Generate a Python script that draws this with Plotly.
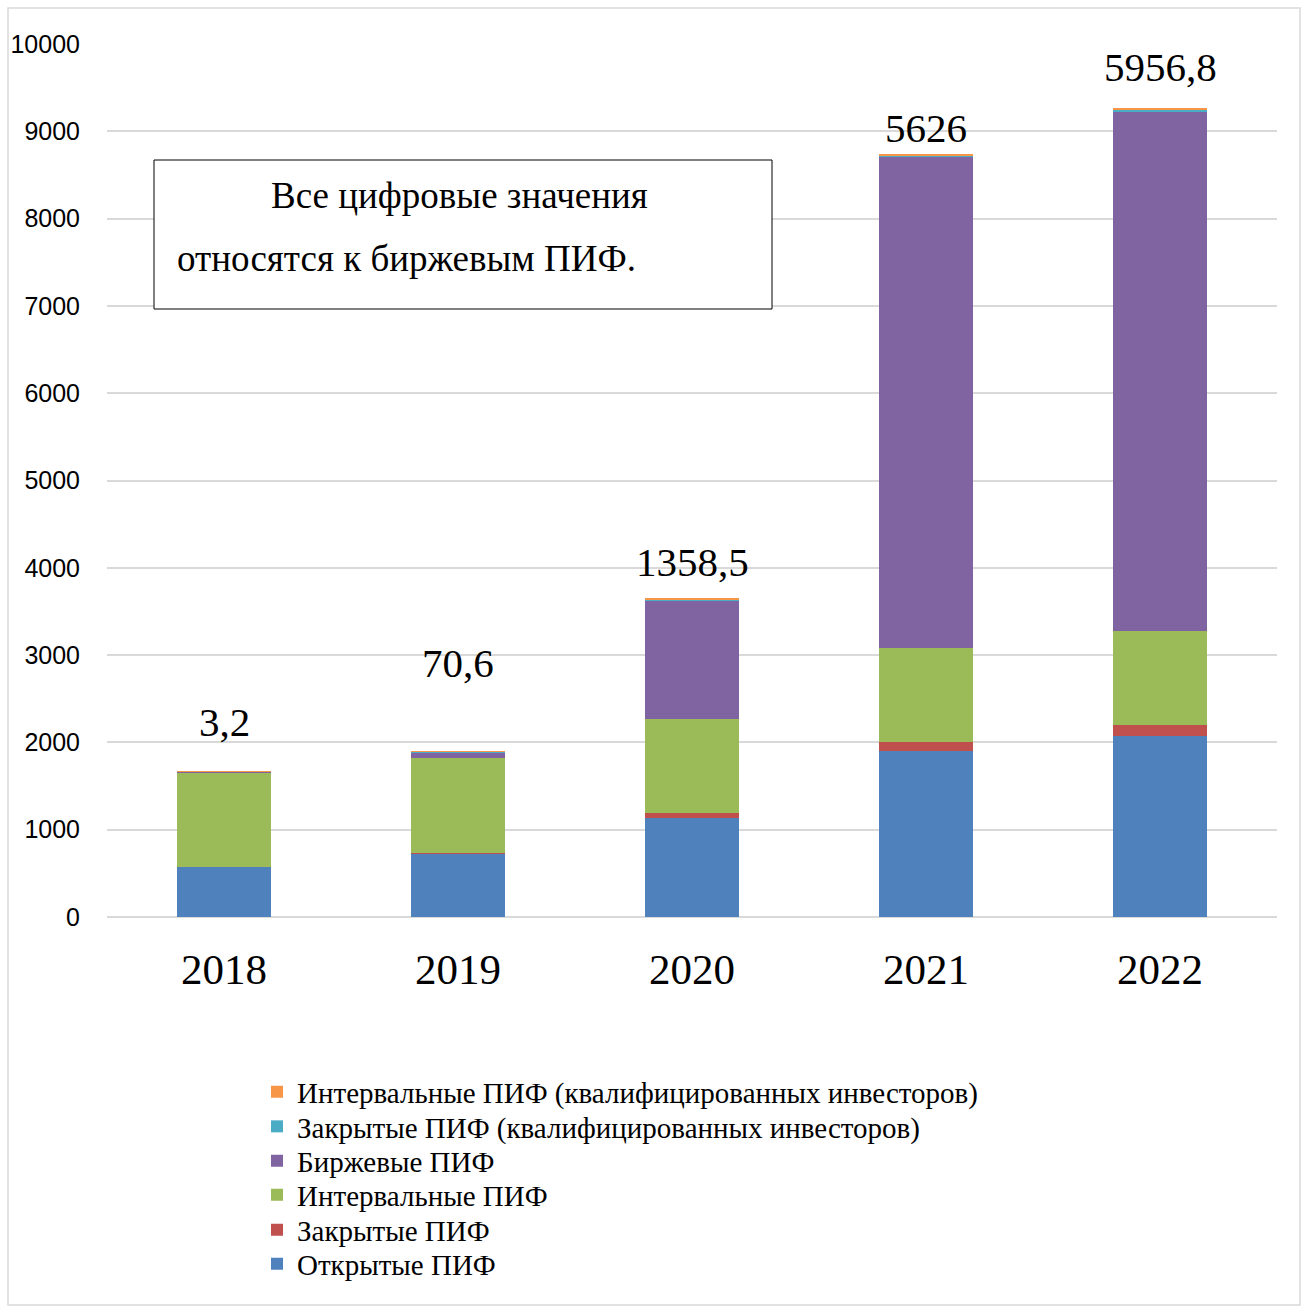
import plotly.graph_objects as go

years = ["2018", "2019", "2020", "2021", "2022"]
open_pif = [573, 730, 1137, 1904, 2072]
closed_pif = [5, 8, 57, 100, 126]
interval_pif = [1082, 1078, 1073, 1080, 1077]
etf_pif = [3.2, 70.6, 1358.5, 5626, 5956.8]
closed_qual = [2, 4, 14, 14, 18]
interval_qual = [1, 2, 5, 8, 10]
etf_labels = ["3,2", "70,6", "1358,5", "5626", "5956,8"]
label_gap_px = [50, 89, 37, 27, 42]

series = [
    ("Открытые ПИФ", open_pif, "#4F81BD"),
    ("Закрытые ПИФ", closed_pif, "#C0504D"),
    ("Интервальные ПИФ", interval_pif, "#9BBB59"),
    ("Биржевые ПИФ", etf_pif, "#8064A2"),
    ("Закрытые ПИФ (квалифицированных инвесторов)", closed_qual, "#4BACC6"),
    ("Интервальные ПИФ (квалифицированных инвесторов)", interval_qual, "#F79646"),
]

L, R, T, B = 107, 32, 44, 393
W, H = 1309, 1310
pw, ph = W - L - R, H - T - B

def px(x):
    return (x - L) / pw

def py(y):
    return (H - B - y) / ph

legend_item_y = [1264, 1230, 1195, 1161, 1126.5, 1092]

fig = go.Figure()
legend_layouts = {}
for i, (name, vals, col) in enumerate(series):
    lname = "legend" if i == 0 else f"legend{i + 1}"
    fig.add_trace(go.Bar(x=years, y=vals, name=name, marker=dict(color=col, line=dict(width=0)),
                         legend=lname, showlegend=True))
    legend_layouts[lname] = dict(x=px(257), y=py(legend_item_y[i]), xanchor="left", yanchor="middle",
                                 font=dict(family="Liberation Serif", size=29, color="black"),
                                 bgcolor="rgba(0,0,0,0)", itemwidth=30)

totals = [sum(s[1][i] for s in series) for i in range(len(years))]
for i, yr in enumerate(years):
    # category index position of each year on the category axis
    fig.add_annotation(x=i, y=totals[i], xref="x", yref="y", text=etf_labels[i], showarrow=False,
                       yanchor="middle", yshift=label_gap_px[i],
                       font=dict(family="Liberation Serif", size=41, color="black"))

# outer border
fig.add_shape(type="rect", xref="paper", yref="paper", x0=px(8), x1=px(1300), y0=py(1305), y1=py(8),
              line=dict(color="#d9d9d9", width=1.5), fillcolor="rgba(0,0,0,0)", layer="below")
# text box
fig.add_shape(type="rect", xref="paper", yref="paper", x0=px(154), x1=px(772), y0=py(309), y1=py(160),
              line=dict(color="black", width=1), fillcolor="white", layer="above")
fig.add_annotation(xref="paper", yref="paper", x=px(459), y=py(195), text="Все цифровые значения",
                   showarrow=False, xanchor="center", yanchor="middle",
                   font=dict(family="Liberation Serif", size=37, color="black"))
fig.add_annotation(xref="paper", yref="paper", x=px(175), y=py(258), text="относятся к биржевым ПИФ.",
                   showarrow=False, xanchor="left", yanchor="middle",
                   font=dict(family="Liberation Serif", size=37, color="black"))

fig.update_layout(
    width=W, height=H,
    margin=dict(l=L, r=R, t=T, b=B, autoexpand=False),
    barmode="stack", bargap=0.6,
    plot_bgcolor="white", paper_bgcolor="white",
    showlegend=True,
    xaxis=dict(type="category", range=[-0.5, 4.5], autorange=False, showgrid=False, showline=False,
               ticks="outside", ticklen=14, tickcolor="rgba(0,0,0,0)",
               tickfont=dict(family="Liberation Serif", size=43, color="black")),
    yaxis=dict(range=[0, 10000], autorange=False, dtick=1000, tickformat="d", showgrid=True,
               gridcolor="#d9d9d9", gridwidth=2,
               zeroline=True, zerolinecolor="#d9d9d9", zerolinewidth=2, showline=False,
               ticks="outside", ticklen=21, tickcolor="rgba(0,0,0,0)",
               tickfont=dict(family="Liberation Sans", size=25, color="black")),
    **legend_layouts,
)

fig.write_html("out.html")
